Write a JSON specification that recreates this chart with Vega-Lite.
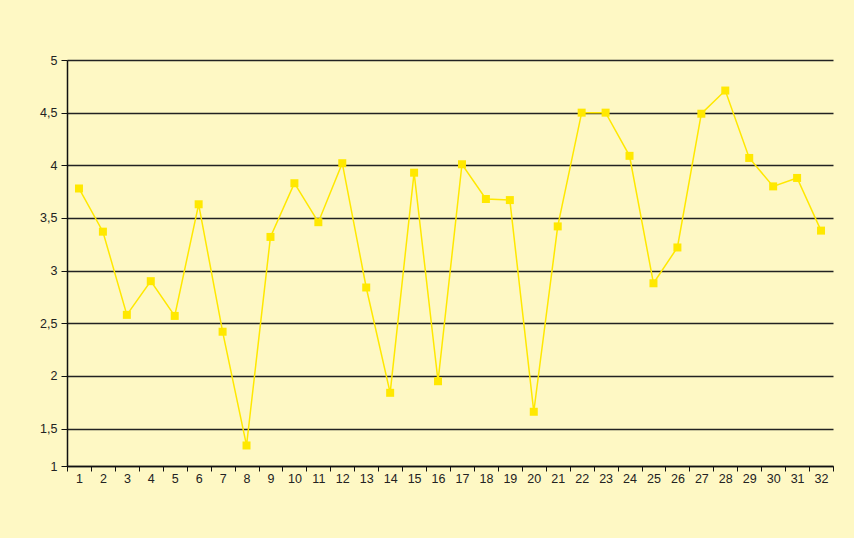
{
  "$schema": "https://vega.github.io/schema/vega-lite/v6.json",
  "width": 766,
  "height": 406,
  "autosize": "none",
  "padding": {"left": 67, "top": 60, "right": 21, "bottom": 72},
  "background": "#FEF8C4",
  "config": {"view": {"stroke": null}, "font": "Liberation Sans"},
  "data": {"values": [
    {"n": 1, "v": 3.78}, {"n": 2, "v": 3.37}, {"n": 3, "v": 2.58}, {"n": 4, "v": 2.90},
    {"n": 5, "v": 2.57}, {"n": 6, "v": 3.63}, {"n": 7, "v": 2.42}, {"n": 8, "v": 1.34},
    {"n": 9, "v": 3.32}, {"n": 10, "v": 3.83}, {"n": 11, "v": 3.46}, {"n": 12, "v": 4.02},
    {"n": 13, "v": 2.84}, {"n": 14, "v": 1.84}, {"n": 15, "v": 3.93}, {"n": 16, "v": 1.95},
    {"n": 17, "v": 4.01}, {"n": 18, "v": 3.68}, {"n": 19, "v": 3.67}, {"n": 20, "v": 1.66},
    {"n": 21, "v": 3.42}, {"n": 22, "v": 4.50}, {"n": 23, "v": 4.50}, {"n": 24, "v": 4.09},
    {"n": 25, "v": 2.88}, {"n": 26, "v": 3.22}, {"n": 27, "v": 4.49}, {"n": 28, "v": 4.71},
    {"n": 29, "v": 4.07}, {"n": 30, "v": 3.80}, {"n": 31, "v": 3.88}, {"n": 32, "v": 3.38}
  ]},
  "encoding": {
    "x": {
      "field": "n", "type": "ordinal",
      "scale": {"type": "band", "paddingInner": 0, "paddingOuter": 0},
      "axis": {
        "title": null, "labelAngle": 0, "tickBand": "extent",
        "domainColor": "#111", "domainWidth": 1.5,
        "tickColor": "#111", "tickSize": 5, "tickWidth": 1,
        "labelPadding": 1, "labelFontSize": 12.5, "labelColor": "#222",
        "grid": false
      }
    },
    "y": {
      "field": "v", "type": "quantitative",
      "scale": {"domain": [1.145, 5], "nice": false, "zero": false},
      "axis": {
        "title": null,
        "values": [1.145, 1.5, 2, 2.5, 3, 3.5, 4, 4.5, 5],
        "labelExpr": "datum.value < 1.2 ? '1' : replace(toString(datum.value), '.', ',')",
        "grid": true, "gridColor": "#222", "gridWidth": 1.3,
        "domainColor": "#111", "domainWidth": 1.5,
        "tickColor": "#111", "tickSize": 6, "tickWidth": 1,
        "labelPadding": 4, "labelFontSize": 12.5, "labelColor": "#222"
      }
    }
  },
  "layer": [
    {"mark": {"type": "line", "color": "#FFE800", "strokeWidth": 1.5}},
    {"mark": {"type": "point", "shape": "square", "filled": true, "size": 64, "color": "#FFE800", "opacity": 1}}
  ]
}
